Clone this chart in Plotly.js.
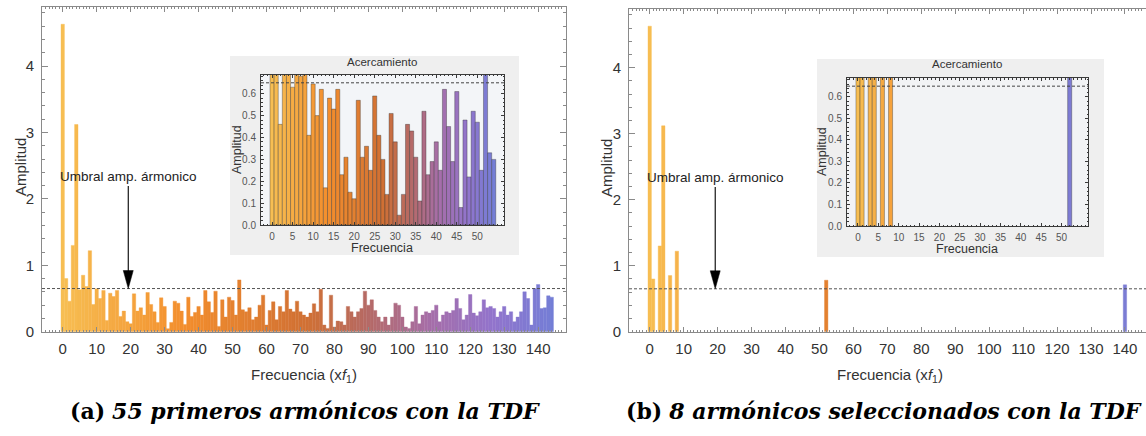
<!DOCTYPE html>
<html>
<head>
<meta charset="utf-8">
<script src="https://cdn.plot.ly/plotly-3.0.1.min.js"></script>
<style>
  html, body { margin: 0; padding: 0; background: #ffffff; }
  #chart { width: 1146px; height: 436px; }
</style>
</head>
<body>
<div id="chart"></div>
<script>
// Amplitud de cada armónico de la TDF (la posición en la lista es el múltiplo de f1)
const amplitud = [
  4.63, 0.80, 0.46, 1.30, 3.12, 0.63, 0.85, 0.68, 1.22, 0.41,
  0.645, 0.50, 0.62, 0.17, 0.58, 0.53, 0.62, 0.23, 0.31, 0.15,
  0.12, 0.57, 0.31, 0.36, 0.25, 0.59, 0.41, 0.30, 0.14, 0.51,
  0.38, 0.045, 0.14, 0.46, 0.43, 0.31, 0.11, 0.52, 0.23, 0.29,
  0.38, 0.25, 0.62, 0.45, 0.29, 0.61, 0.08, 0.48, 0.22, 0.52,
  0.47, 0.25, 0.78, 0.33, 0.30, 0.36, 0.18, 0.22, 0.40, 0.55,
  0.10, 0.32, 0.45, 0.18, 0.38, 0.30, 0.62, 0.34, 0.30, 0.46,
  0.30, 0.25, 0.22, 0.28, 0.42, 0.30, 0.64, 0.10, 0.05, 0.55,
  0.07, 0.16, 0.15, 0.10, 0.38, 0.30, 0.22, 0.30, 0.35, 0.61,
  0.40, 0.48, 0.32, 0.22, 0.15, 0.22, 0.10, 0.22, 0.43, 0.40,
  0.22, 0.07, 0.05, 0.15, 0.38, 0.12, 0.25, 0.30, 0.28, 0.32,
  0.40, 0.15, 0.25, 0.30, 0.28, 0.32, 0.50, 0.35, 0.18, 0.25,
  0.56, 0.28, 0.24, 0.30, 0.48, 0.36, 0.38, 0.35, 0.22, 0.30,
  0.38, 0.25, 0.30, 0.15, 0.22, 0.30, 0.60, 0.50, 0.10, 0.65,
  0.71, 0.35, 0.36, 0.54, 0.52
];
// Armónicos que superan el umbral
const seleccionados = [0, 1, 3, 4, 6, 8, 52, 140];
const umbral = 0.65;
const ultimoAcercamiento = 54;
// Posición de la flecha que señala el umbral
const flechaX = 19.3;
const flechaTextoY = 2.33;

const ticksFrecuencia = [0, 10, 20, 30, 40, 50, 60, 70, 80, 90, 100, 110, 120, 130, 140];
const ticksAmplitud = [0, 1, 2, 3, 4];
const ticksFrecAcerc = [0, 5, 10, 15, 20, 25, 30, 35, 40, 45, 50];
const ticksAmpAcerc = [0, 0.1, 0.2, 0.3, 0.4, 0.5, 0.6];

const subtitulos = [
  '<b>(a)</b> <b><i>55 primeros armónicos con la TDF</i></b>',
  '<b>(b)</b> <b><i>8 armónicos seleccionados con la TDF</i></b>'
];

// ---- paleta: amarillo anaranjado -> naranja -> marrón -> violeta -> azul ----
const paradas = [
  [0.00, [247, 190, 82]],
  [0.25, [243, 142, 45]],
  [0.50, [208, 112, 52]],
  [0.62, [182, 106, 100]],
  [0.75, [166, 110, 168]],
  [0.88, [146, 116, 204]],
  [1.00, [116, 126, 214]]
];
function color(t) {
  t = Math.max(0, Math.min(1, t));
  for (let k = 1; k < paradas.length; k++) {
    if (t <= paradas[k][0]) {
      const [t0, c0] = paradas[k - 1], [t1, c1] = paradas[k];
      const f = (t - t0) / (t1 - t0);
      const c = c0.map((v, j) => Math.round(v + f * (c1[j] - v)));
      return `rgb(${c[0]},${c[1]},${c[2]})`;
    }
  }
  return 'rgb(116,126,214)';
}

const W = 1146, H = 436;
const px = p => p / W;
const py = p => 1 - p / H;

const armonico = amplitud.map((_, i) => i);
const ultimo = armonico.length - 1;
const coloresPrinc = armonico.map(i => color(i / ultimo));

const idxAcerc = armonico.filter(i => i <= ultimoAcercamiento);
const ampAcerc = idxAcerc.map(i => amplitud[i]);
const coloresAcerc = idxAcerc.map(i => color(i / ultimoAcercamiento));

const selAmp = seleccionados.map(i => amplitud[i]);
const selColores = seleccionados.map(i => color(i / ultimo));
const selAcerc = seleccionados.filter(i => i <= ultimoAcercamiento);
const selAcercAmp = selAcerc.map(i => amplitud[i]);
const selAcercColores = selAcerc.map(i => color(i / ultimoAcercamiento));

const fuente = 'Liberation Sans, Arial, sans-serif';

const traces = [
  { type: 'bar', x: armonico, y: amplitud, width: 1, xaxis: 'x', yaxis: 'y',
    marker: { color: coloresPrinc, line: { color: coloresPrinc, width: 0.4 } }, hoverinfo: 'x+y' },
  { type: 'bar', x: idxAcerc, y: ampAcerc, width: 1, xaxis: 'x2', yaxis: 'y2',
    marker: { color: coloresAcerc, line: { color: 'rgba(45,45,45,0.6)', width: 0.6 } } },
  { type: 'bar', x: seleccionados, y: selAmp, width: 1, xaxis: 'x3', yaxis: 'y3',
    marker: { color: selColores, line: { color: selColores, width: 0.4 } } },
  { type: 'bar', x: selAcerc, y: selAcercAmp, width: 1, xaxis: 'x4', yaxis: 'y4',
    marker: { color: selAcercColores, line: { color: 'rgba(45,45,45,0.6)', width: 0.6 } } }
];

function ejeXPrincipal(dom, rango, anchor) {
  return {
    domain: dom, range: rango, anchor: anchor, showgrid: false, zeroline: false,
    showline: true, linecolor: '#8a8a8a', linewidth: 1, mirror: 'allticks',
    tickmode: 'array', tickvals: ticksFrecuencia, ticks: 'inside', ticklen: 5,
    tickcolor: '#8a8a8a', ticklabelstandoff: 3,
    minor: { tickmode: 'linear', tick0: 0, dtick: 1, ticks: 'inside', ticklen: 2, tickcolor: '#8a8a8a' },
    tickfont: { family: fuente, size: 15, color: '#333333' }, fixedrange: true
  };
}
function ejeYPrincipal(dom, anchor, espejo) {
  return {
    domain: dom, range: [0, 4.89], anchor: anchor, showgrid: false, zeroline: false,
    showline: true, linecolor: '#8a8a8a', linewidth: 1, mirror: espejo,
    tickmode: 'array', tickvals: ticksAmplitud, ticks: 'inside', ticklen: 6,
    tickcolor: '#8a8a8a', ticklabelstandoff: 4,
    minor: { tickmode: 'linear', tick0: 0, dtick: 0.2, ticks: 'inside', ticklen: 3, tickcolor: '#8a8a8a' },
    tickfont: { family: fuente, size: 15, color: '#333333' }, fixedrange: true
  };
}
function ejeXAcerc(dom, anchor) {
  return {
    domain: dom, range: [-2.7, 56.5], anchor: anchor, showgrid: false, zeroline: false,
    showline: true, linecolor: '#3a3a3a', linewidth: 1, mirror: 'allticks',
    tickmode: 'array', tickvals: ticksFrecAcerc, ticks: 'inside', ticklen: 3,
    tickcolor: '#3a3a3a', ticklabelstandoff: 2,
    minor: { tickmode: 'linear', tick0: 0, dtick: 1, ticks: 'inside', ticklen: 1.5, tickcolor: '#3a3a3a' },
    tickfont: { family: fuente, size: 10, color: '#555555' }, fixedrange: true
  };
}
function ejeYAcerc(dom, anchor) {
  return {
    domain: dom, range: [0, 0.688], anchor: anchor, showgrid: false, zeroline: false,
    showline: true, linecolor: '#3a3a3a', linewidth: 1, mirror: 'allticks',
    tickmode: 'array', tickvals: ticksAmpAcerc, tickformat: '.1f', ticks: 'inside', ticklen: 3,
    tickcolor: '#3a3a3a', ticklabelstandoff: 2,
    minor: { tickmode: 'linear', tick0: 0, dtick: 0.02, ticks: 'inside', ticklen: 1.5, tickcolor: '#3a3a3a' },
    tickfont: { family: fuente, size: 10, color: '#555555' }, fixedrange: true
  };
}

// Punta de flecha alargada (en píxeles, anclada en el umbral)
const punta = (xr, yr) => ({
  type: 'path', xref: xr, yref: yr, xsizemode: 'pixel', ysizemode: 'pixel',
  xanchor: flechaX, yanchor: umbral, path: 'M-5,18 L5,18 L0,0 Z',
  fillcolor: '#000000', line: { color: '#000000', width: 0.5 }
});

// Cajas grises de los acercamientos y fondo de sus áreas de trazado
const shapes = [
  { type: 'rect', xref: 'paper', yref: 'paper', layer: 'below',
    x0: px(230), x1: px(519), y0: py(255), y1: py(56), fillcolor: '#efefef', line: { width: 0 } },
  { type: 'rect', xref: 'paper', yref: 'paper', layer: 'below',
    x0: px(261), x1: px(504), y0: py(225), y1: py(74.5), fillcolor: '#f3f5f8', line: { width: 0 } },
  { type: 'rect', xref: 'paper', yref: 'paper', layer: 'below',
    x0: px(817), x1: px(1104), y0: py(257), y1: py(59), fillcolor: '#efefef', line: { width: 0 } },
  { type: 'rect', xref: 'paper', yref: 'paper', layer: 'below',
    x0: px(847), x1: px(1088), y0: py(226), y1: py(78), fillcolor: '#f2f3f5', line: { width: 0 } },
  // umbral de amplitud armónica
  { type: 'line', xref: 'x domain', yref: 'y', x0: 0, x1: 1, y0: umbral, y1: umbral,
    line: { color: '#555555', width: 1, dash: '3px,2px' } },
  { type: 'line', xref: 'x2 domain', yref: 'y2', x0: 0, x1: 1, y0: umbral, y1: umbral,
    line: { color: '#444444', width: 1, dash: '3px,2px' } },
  { type: 'line', xref: 'x3 domain', yref: 'y3', x0: 0, x1: 1, y0: umbral, y1: umbral,
    line: { color: '#555555', width: 1, dash: '3px,2px' } },
  { type: 'line', xref: 'x4 domain', yref: 'y4', x0: 0, x1: 1, y0: umbral, y1: umbral,
    line: { color: '#444444', width: 1, dash: '3px,2px' } },
  punta('x', 'y'),
  punta('x3', 'y3')
];

const txt = (text, x, y, size, extra) => Object.assign({
  text: text, xref: 'paper', yref: 'paper', x: px(x), y: py(y), showarrow: false,
  xanchor: 'center', yanchor: 'middle', font: { family: fuente, size: size, color: '#333333' }
}, extra || {});

const flecha = (xr, yr) => ({
  text: 'Umbral amp. ármonico', xref: xr, yref: yr, axref: xr, ayref: yr,
  x: flechaX, y: umbral, ax: flechaX, ay: flechaTextoY, showarrow: true,
  arrowhead: 0, arrowwidth: 1.1, arrowcolor: '#000000', standoff: 12,
  font: { family: fuente, size: 13.5, color: '#222222' }
});

const fuenteSub = { family: 'DejaVu Serif, serif', size: 22, color: '#000000' };

const annotations = [
  txt('Amplitud', 20, 167, 15, { textangle: -90 }),
  txt('Frecuencia (x<i>f</i><sub>1</sub>)', 304, 375, 15),
  txt('Amplitud', 606, 168, 15, { textangle: -90 }),
  txt('Frecuencia (x<i>f</i><sub>1</sub>)', 890, 375, 15),
  txt('Acercamiento', 382, 62, 11.5),
  txt('Amplitud', 237, 150, 12.5, { textangle: -90 }),
  txt('Frecuencia', 382, 248, 12.5),
  txt('Acercamiento', 967, 64, 11.5),
  txt('Amplitud', 822, 152, 12.5, { textangle: -90 }),
  txt('Frecuencia', 967, 249, 12.5),
  flecha('x', 'y'),
  flecha('x3', 'y3'),
  txt(subtitulos[0], 305, 411, 22, { font: fuenteSub }),
  txt(subtitulos[1], 884, 411, 22, { font: fuenteSub })
];

const layout = {
  width: W, height: H, margin: { l: 0, r: 0, t: 0, b: 0 },
  paper_bgcolor: '#ffffff', plot_bgcolor: 'rgba(0,0,0,0)',
  showlegend: false, bargap: 0, barmode: 'overlay',
  xaxis: ejeXPrincipal([px(42), px(566)], [-6.1, 148.2], 'y'),
  yaxis: ejeYPrincipal([py(331.7), py(7)], 'x', 'allticks'),
  xaxis2: ejeXAcerc([px(261), px(504)], 'y2'),
  yaxis2: ejeYAcerc([py(225), py(74.5)], 'x2'),
  xaxis3: ejeXPrincipal([px(629), 1], [-6.1, 146.2], 'y3'),
  yaxis3: ejeYPrincipal([py(331.7), py(9)], 'x3', false),
  xaxis4: ejeXAcerc([px(847), px(1088)], 'y4'),
  yaxis4: ejeYAcerc([py(226), py(78)], 'x4'),
  shapes: shapes,
  annotations: annotations
};

Plotly.newPlot('chart', traces, layout, { staticPlot: true, displayModeBar: false });
</script>
</body>
</html>
